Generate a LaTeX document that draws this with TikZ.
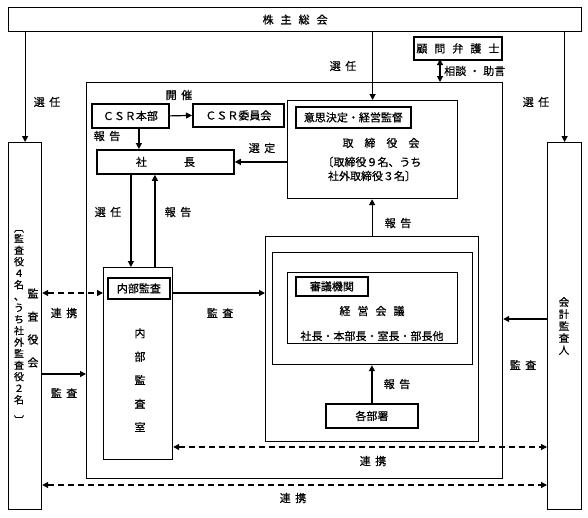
\documentclass[tikz,border=0pt]{standalone}
\usepackage{fontspec}
\usepackage{graphicx}
\setmainfont{Noto Sans CJK JP}[FakeBold=0.6]
\usetikzlibrary{arrows.meta}
\newcommand{\gp}{\hspace{4.5pt}}
\newcommand{\gq}{\hspace{7pt}}
\begin{document}
\begin{tikzpicture}[x=1pt,y=-1pt,
  font=\fontsize{11}{13}\selectfont,
  bx/.style={draw, line width=1.2pt, inner sep=0pt, anchor=north west},
  tk/.style={bx, line width=1.8pt},
  tx/.style={inner sep=0pt},
  arr/.style={line width=1.2pt, -{Triangle[length=6pt,width=6pt]}},
  darr/.style={line width=1.2pt, {Triangle[length=6pt,width=6pt]}-{Triangle[length=6pt,width=6pt]}},
  dsh/.style={darr, dash pattern=on 6pt off 4pt},
  vt/.style={tx, align=center}]
\useasboundingbox (0,0) rectangle (588,517);
% boxes
\node[bx, minimum width=573pt, minimum height=24pt] (sh) at (8,7) {株\gq 主\gq 総\gq 会};
\node[tk, minimum width=88pt, minimum height=23pt] (kb) at (413,36) {顧\gq 問\gq 弁\gq 護\gq 士};
\node[bx, minimum width=416pt, minimum height=396pt] (big) at (86,82) {};
\node[bx, minimum width=33pt, minimum height=367pt] (ka) at (8,142) {};
\node[bx, minimum width=34pt, minimum height=367pt] (ak) at (547,142) {};
\node[tk, minimum width=77pt, minimum height=24pt] (csr) at (91,103) {ＣＳＲ本部};
\node[tk, minimum width=91pt, minimum height=23pt] (csrc) at (192,103) {ＣＳＲ委員会};
\node[bx, minimum width=170pt, minimum height=98pt] (tb) at (287,100) {};
\node[tk, minimum width=115pt, minimum height=21pt] (tbl) at (295,106) {意思決定・経営監督};
\node[tk, minimum width=137pt, minimum height=24pt] (pres) at (96,149) {社\hspace{37pt}長};
\node[bx, minimum width=69pt, minimum height=192pt] (ia) at (103,267) {};
\node[tk, minimum width=62pt, minimum height=21pt] (ial) at (107,277) {内部監査};
\node[bx, minimum width=213pt, minimum height=205pt] (ob) at (265,236) {};
\node[bx, minimum width=200pt, minimum height=112pt] (mb) at (272,252) {};
\node[bx, minimum width=170pt, minimum height=71pt] (ib) at (287,272) {};
\node[tk, minimum width=72pt, minimum height=19pt] (sl) at (295,276) {審議機関};
\node[tk, minimum width=92pt, minimum height=24pt] (kbs) at (325,403) {各部署};
% texts inside boxes
\node[tx] (tbt) at (381,143) {取\hspace{11pt}締\hspace{11pt}役\hspace{11pt}会};
\node[tx, align=center, font=\fontsize{11}{14}\selectfont] (tbm) at (372,169) {〔取締役９名、うち\\社外取締役３名〕};
\node[tx] (kgt) at (372,311) {経\gq 営\gq 会\gq 議};
\node[tx] (kgm) at (372,336) {社長・本部長・室長・部長他};
\node[vt, font=\fontsize{11}{23.5}\selectfont] (iat) at (140,380) {内\\部\\監\\査\\室};
\node[vt, font=\fontsize{11}{23}\selectfont] (kat) at (33,328) {監\\査\\役\\会};
\node[vt, font=\fontsize{10}{11.5}\selectfont] (kab) at (19,324) {\rotatebox{-90}{〔}\\監\\査\\役\\４\\名\\、\\う\\ち\\社\\外\\監\\査\\役\\２\\名\\\rotatebox{-90}{〕}};
\node[vt, font=\fontsize{10.5}{12}\selectfont] (akt) at (564,326) {会\\計\\監\\査\\人};
% coordinates
\coordinate (kbx) at (440,59);
\coordinate (r1) at (0,293);
\coordinate (r2) at (0,374);
\coordinate (r3) at (0,319);
\coordinate (r4) at (0,447);
\coordinate (r5) at (0,485);
% connectors
\draw[arr] (sh.south -| ka.north) -- (ka.north);
\draw[arr] (sh.south -| tb.north) -- (tb.north);
\draw[arr] (sh.south -| ak.north) -- (ak.north);
\draw[darr] (kbx) -- (kbx |- big.north);
\draw[arr] (csr.east) -- (csrc.west);
\draw[arr] ([xshift=8.5pt]csr.south) -- ([xshift=8.5pt]csr.south |- pres.north);
\draw[arr] (tb.west |- pres.east) -- (pres.east);
\draw[arr] ([xshift=-34.5pt]pres.south) -- ([xshift=-34.5pt]pres.south |- ia.north);
\draw[arr] ([xshift=-10.5pt]pres.south |- ia.north) -- ([xshift=-10.5pt]pres.south);
\draw[dsh] (ka.east |- r1) -- (ia.west |- r1);
\draw[arr] (ia.east |- r1) -- (ob.west |- r1);
\draw[arr] (ka.east |- r2) -- (big.west |- r2);
\draw[arr] (ob.north) -- (ob.north |- tb.south);
\draw[arr] (kbs.north) -- (kbs.north |- mb.south);
\draw[arr] (ak.west |- r3) -- (big.east |- r3);
\draw[dsh] (ia.east |- r4) -- (ak.west |- r4);
\draw[dsh] (ka.east |- r5) -- (ak.west |- r5);
% labels
\node[tx] (l1) at (47,102) {選\gp 任};
\node[tx] (l2) at (343,66) {選\gp 任};
\node[tx] (l3) at (536,102) {選\gp 任};
\node[tx, anchor=west] (l4) at (444,71) {相談\hspace{3pt}・\hspace{3pt}助言};
\node[tx] (l5) at (179,95) {開\gp 催};
\node[tx] (l6) at (107,136) {報\gp 告};
\node[tx] (l7) at (262,148) {選\gp 定};
\node[tx] (l8) at (108,212) {選\gp 任};
\node[tx] (l9) at (178,212) {報\gp 告};
\node[tx] (l10) at (64,313) {連\gp 携};
\node[tx] (l11) at (64,393) {監\gp 査};
\node[tx] (l12) at (220,313) {監\gp 査};
\node[tx] (l13) at (398,223) {報\gp 告};
\node[tx] (l14) at (397,384) {報\gp 告};
\node[tx] (l15) at (523,365) {監\gp 査};
\node[tx] (l16) at (373,461) {連\gp 携};
\node[tx] (l17) at (293,498) {連\gp 携};
\end{tikzpicture}
\end{document}
